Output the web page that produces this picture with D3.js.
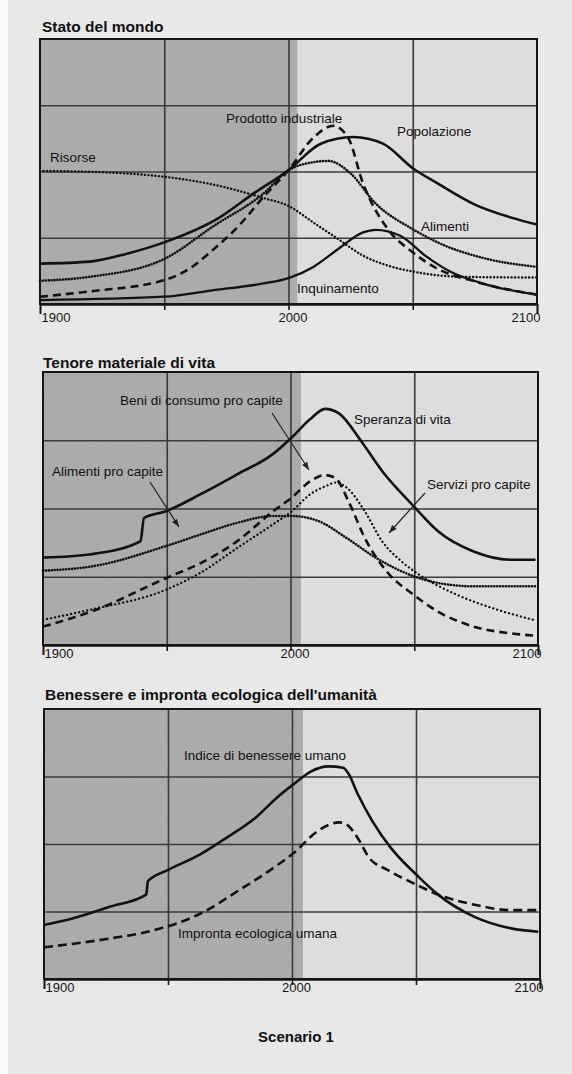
<!DOCTYPE html>
<html><head><meta charset="utf-8">
<script src="https://cdn.jsdelivr.net/npm/d3@7"></script>
<style>
html,body{margin:0;padding:0;background:#fff;}
svg{display:block;font-family:"Liberation Sans",Arial,sans-serif;}
</style></head>
<body><svg id="c" width="572" height="1074"></svg>
<script>
// ---------------- DATA ----------------
const axisYears = [1900, 1950, 2000, 2050, 2100];
const axisLabels = ["1900", "", "2000", "", "2100"];
const gridValues = [1, 2, 3];

// Panel 1: Stato del mondo
const popYears   = [1900,1920,1935,1950,1972,1986,2000,2013,2026,2038,2050,2060,2075,2090,2100];
const popValues  = [0.61,0.64,0.76,0.93,1.30,1.67,2.02,2.42,2.52,2.42,2.05,1.82,1.50,1.30,1.20];
const indYears   = [1900,1920,1950,1960,1970,1980,1990,2000,2010,2018,2024,2030,2040,2050,2060,2075,2100];
const indValues  = [0.11,0.19,0.36,0.53,0.83,1.18,1.62,2.02,2.51,2.69,2.51,1.82,1.13,0.78,0.53,0.34,0.14];
const alimYears  = [1900,1920,1950,1970,1990,2000,2010,2016,2025,2035,2050,2060,2080,2100];
const alimValues = [0.35,0.41,0.68,1.18,1.67,2.02,2.14,2.16,1.97,1.52,1.13,0.93,0.68,0.56];
const risYears   = [1900,1930,1950,1970,1990,2000,2010,2020,2030,2040,2050,2070,2100];
const risValues  = [2.01,1.98,1.92,1.80,1.60,1.48,1.23,0.98,0.73,0.58,0.49,0.41,0.40];
const inqYears   = [1900,1950,1970,1990,2000,2010,2020,2030,2035,2045,2055,2065,2080,2100];
const inqValues  = [0.06,0.11,0.21,0.31,0.39,0.56,0.83,1.08,1.12,1.03,0.73,0.49,0.29,0.14];

// Panel 2: Tenore materiale di vita
const sperYears  = [1900,1919.5,1939.4,1940.8,1949.7,1963.7,1978.4,1993,2000.5,2008,2014,2019.7,2028.5,2037,2049.6,2059.5,2074,2089,2099];
const sperValues = [1.28,1.33,1.52,1.86,1.96,2.21,2.50,2.80,3.04,3.31,3.46,3.39,2.99,2.55,2.04,1.67,1.37,1.25,1.25];
const apcYears   = [1900,1919.5,1949.7,1963.7,1978.4,1993,2000.5,2011,2022.6,2034.4,2049.6,2059.5,2074,2099];
const apcValues  = [1.09,1.15,1.45,1.62,1.79,1.89,1.89,1.82,1.57,1.28,1.01,0.91,0.86,0.86];
const beniYears  = [1900,1919.5,1949.7,1963.7,1978.4,1993,2000.5,2008,2014,2018,2024,2030,2038.8,2049.6,2059.5,2074,2089,2098];
const beniValues = [0.27,0.49,0.98,1.20,1.52,1.96,2.16,2.40,2.49,2.45,2.06,1.57,1.08,0.74,0.49,0.27,0.17,0.14];
const servYears  = [1900,1919.5,1949.7,1963.7,1978.4,1993,2000.5,2008,2015,2018,2022.6,2030,2037,2044.7,2052,2067,2081.6,2098];
const servValues = [0.37,0.52,0.81,1.06,1.42,1.77,1.96,2.21,2.34,2.38,2.31,1.96,1.52,1.23,1.03,0.74,0.54,0.37];

// Panel 3: Benessere e impronta ecologica
const hwiYears   = [1900,1911.8,1926.5,1941.2,1941.9,1950.3,1963.2,1973.5,1985.3,1994,2000.8,2007.4,2014.7,2020.6,2022.8,2026.5,2032.4,2039.7,2050,2058.9,2073.6,2088.3,2099.3];
const hwiValues  = [0.80,0.90,1.07,1.25,1.45,1.62,1.85,2.09,2.39,2.69,2.89,3.07,3.15,3.13,3.04,2.74,2.34,1.95,1.55,1.25,0.92,0.75,0.70];
const efYears    = [1900,1926.5,1944,1963.2,1978,1992.7,2000.8,2010.3,2019.1,2022,2026.5,2031,2038.3,2050,2058.9,2073.6,2088.3,2100];
const efValues   = [0.47,0.60,0.72,0.97,1.30,1.65,1.87,2.19,2.32,2.29,2.09,1.80,1.62,1.40,1.25,1.10,1.02,1.02];

// ---------------- DRAW ----------------
const svg = d3.select("#c");
const defs = svg.append("defs");
const flt = defs.append("filter").attr("id","grain").attr("x",0).attr("y",0).attr("width","100%").attr("height","100%");
flt.append("feTurbulence").attr("type","fractalNoise").attr("baseFrequency",0.9).attr("numOctaves",1).attr("seed",3).attr("result","n");
flt.append("feColorMatrix").attr("in","n").attr("type","matrix")
  .attr("values","0 0 0 0 0.5  0 0 0 0 0.5  0 0 0 0 0.5  0 0 0 0.35 0").attr("result","g");
flt.append("feComposite").attr("in","g").attr("in2","SourceGraphic").attr("operator","in").attr("result","g2");
flt.append("feMerge").call(m=>{m.append("feMergeNode").attr("in","SourceGraphic");m.append("feMergeNode").attr("in","g2");});

// page
svg.append("rect").attr("x",0).attr("y",0).attr("width",572).attr("height",1074).attr("fill","#fafafa");
svg.append("rect").attr("x",8).attr("y",0).attr("width",564).attr("height",1074).attr("fill","#e8e8e8");

const panels = [
  {title:"Stato del mondo", tx:42, ty:32, L:40, R:537, T:39, B:304, shade:2003.5, lab:331},
  {title:"Tenore materiale di vita", tx:43, ty:368, L:43, R:538, T:372, B:645, shade:2004.2, lab:667},
  {title:"Benessere e impronta ecologica dell'umanità", tx:45, ty:700, L:44, R:540, T:709, B:979, shade:2004.4, lab:1001}
];

function drawPanel(p){
  const g = svg.append("g");
  const x = d3.scaleLinear().domain([1900,2100]).range([p.L,p.R]);
  const y = d3.scaleLinear().domain([0,4]).range([p.B,p.T]);
  p.x = x; p.y = y; p.g = g;
  g.append("text").attr("x",p.tx).attr("y",p.ty).text(p.title)
    .attr("font-size",15.5).attr("font-weight","bold").attr("fill","#111");
  g.append("rect").attr("x",p.L).attr("y",p.T).attr("width",p.R-p.L).attr("height",p.B-p.T).attr("fill","#dddddd");
  g.append("rect").attr("x",p.L).attr("y",p.T).attr("width",x(p.shade)-p.L).attr("height",p.B-p.T)
    .attr("fill","#a8a8a8").attr("filter","url(#grain)");
  // horizontal grid
  const gy = g.append("g").attr("transform",`translate(${p.L},0)`)
    .call(d3.axisLeft(y).tickValues(gridValues).tickSize(-(p.R-p.L)).tickFormat(""));
  gy.select(".domain").remove();
  gy.selectAll("line").attr("stroke","#3a3a3a").attr("stroke-width",1.6);
  // vertical grid
  const gx = g.append("g").attr("transform",`translate(0,${p.T})`)
    .call(d3.axisTop(x).tickValues([1950,2000,2050]).tickSize(-(p.B-p.T)).tickFormat(""));
  gx.select(".domain").remove();
  gx.selectAll("line").attr("stroke","#3a3a3a").attr("stroke-width",1.6);
  // frame
  g.append("rect").attr("x",p.L).attr("y",p.T).attr("width",p.R-p.L).attr("height",p.B-p.T)
    .attr("fill","none").attr("stroke","#151515").attr("stroke-width",2);
  // bottom ticks & labels
  const ax = g.append("g").attr("transform",`translate(0,${p.B})`)
    .call(d3.axisBottom(x).tickValues(axisYears).tickSize(0).tickFormat((d,i)=>axisLabels[i]));
  ax.select(".domain").attr("stroke","#151515").attr("stroke-width",2.4);
  ax.selectAll(".tick line").remove();
  ax.selectAll(".tick").append("line")
    .attr("y1",0).attr("y2",d => (d===1900||d===2100) ? 10 : 6)
    .attr("stroke","#151515").attr("stroke-width",d => (d===1900||d===2100) ? 2 : 1.6);
  ax.selectAll("text").attr("y", p.lab - p.B - 9).attr("dy",0)
    .attr("font-size",13).attr("fill","#151515")
    .attr("font-family","'Liberation Sans',Arial,sans-serif")
    .attr("text-anchor",d => d===1900 ? "start" : d===2100 ? "end" : "middle")
    .attr("dx",d => d===1900 ? 1 : d===2100 ? 3 : 4)
    .attr("dominant-baseline","auto");
  return p;
}

function series(p, years, vals, opts){
  const line = d3.line().x(d=>p.x(d[0])).y(d=>p.y(d[1])).curve(d3.curveMonotoneX);
  p.g.append("path").datum(d3.zip(years, vals)).attr("d", line)
    .attr("fill","none").attr("stroke","#121212")
    .attr("stroke-width", opts.w || 2.4)
    .attr("stroke-dasharray", opts.dash || null)
    .attr("stroke-linecap", opts.cap || "butt")
    .attr("stroke-linejoin","round");
}
function label(p, txt, px, py, anchor){
  p.g.append("text").attr("x",px).attr("y",py).text(txt)
    .attr("font-size",13.5).attr("fill","#111").attr("text-anchor",anchor||"start");
}
function arrow(p, x1, y1, x2, y2){
  p.g.append("line").attr("x1",x1).attr("y1",y1).attr("x2",x2).attr("y2",y2)
    .attr("stroke","#222").attr("stroke-width",1.2);
  const a = Math.atan2(y2-y1, x2-x1), s = 8, w = 3;
  const bx = x2 - s*Math.cos(a), by = y2 - s*Math.sin(a);
  p.g.append("path")
    .attr("d",`M${x2},${y2}L${bx - w*Math.sin(a)},${by + w*Math.cos(a)}L${bx + w*Math.sin(a)},${by - w*Math.cos(a)}Z`)
    .attr("fill","#222");
}

const p1 = drawPanel(panels[0]);
series(p1, risYears, risValues, {w:2.4, dash:"0.1,3.4", cap:"round"});
series(p1, alimYears, alimValues, {w:2.6, dash:"0.1,2.8", cap:"round"});
series(p1, indYears, indValues, {w:2.6, dash:"8,5"});
series(p1, inqYears, inqValues, {w:2.3});
series(p1, popYears, popValues, {w:2.6});
label(p1, "Risorse", 50, 162);
label(p1, "Prodotto industriale", 226, 123);
label(p1, "Popolazione", 397, 136);
label(p1, "Alimenti", 421, 231);
label(p1, "Inquinamento", 297, 293);

const p2 = drawPanel(panels[1]);
series(p2, servYears, servValues, {w:2.3, dash:"0.1,4", cap:"round"});
series(p2, apcYears, apcValues, {w:2.6, dash:"0.1,2.8", cap:"round"});
series(p2, beniYears, beniValues, {w:2.6, dash:"8,5"});
series(p2, sperYears, sperValues, {w:2.6});
label(p2, "Beni di consumo pro capite", 120, 405);
label(p2, "Speranza di vita", 354, 424);
label(p2, "Alimenti pro capite", 52, 476);
label(p2, "Servizi pro capite", 427, 489);
arrow(p2, 272, 413, 309, 470);
arrow(p2, 150, 482, 179, 527);
arrow(p2, 425, 493, 389, 533);

const p3 = drawPanel(panels[2]);
series(p3, efYears, efValues, {w:2.6, dash:"9,5"});
series(p3, hwiYears, hwiValues, {w:2.6});
label(p3, "Indice di benessere umano", 184, 760);
label(p3, "Impronta ecologica umana", 178, 938);

svg.append("text").attr("x",296).attr("y",1042).attr("text-anchor","middle")
  .text("Scenario 1").attr("font-size",15).attr("font-weight","bold").attr("fill","#111");
</script></body></html>
